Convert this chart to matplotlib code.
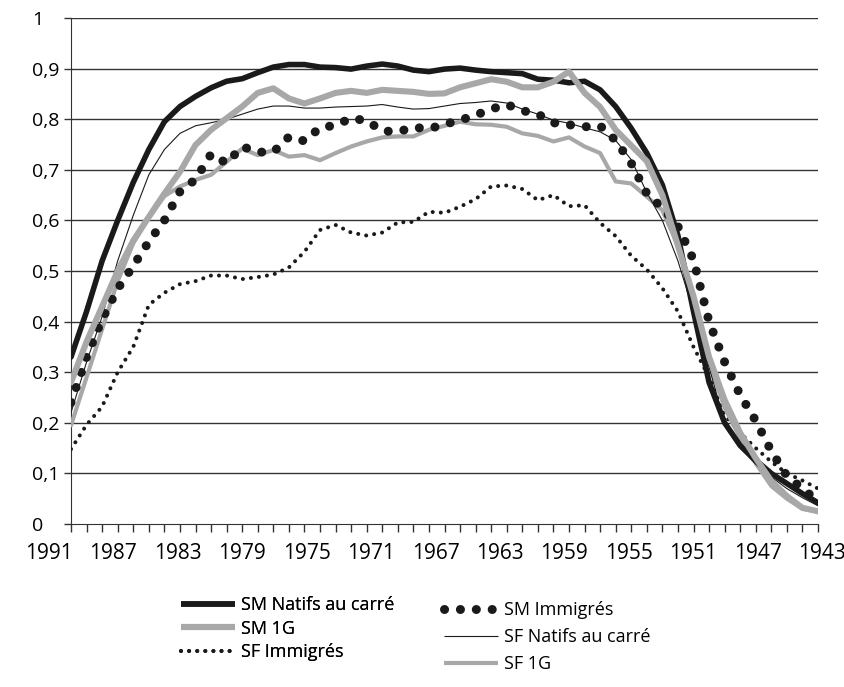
import matplotlib
matplotlib.use("Agg")
import matplotlib.pyplot as plt
import numpy as np
from matplotlib.lines import Line2D
from matplotlib.transforms import ScaledTranslation

plt.rcParams['font.family'] = ['Open Sans', 'DejaVu Sans']

years = np.arange(1991, 1942, -1)  # 1991 ... 1943

sm_natifs = [0.33, 0.42, 0.52, 0.60, 0.675, 0.74, 0.795, 0.825, 0.845, 0.862,
             0.875, 0.88, 0.892, 0.903, 0.908, 0.908, 0.903, 0.902, 0.899, 0.905,
             0.909, 0.905, 0.897, 0.894, 0.899, 0.901, 0.897, 0.894, 0.892, 0.890,
             0.879, 0.877, 0.872, 0.875, 0.858, 0.825, 0.782, 0.733, 0.67, 0.57,
             0.42, 0.28, 0.20, 0.155, 0.126, 0.10, 0.08, 0.06, 0.042]
sm_immig = [0.24, 0.33, 0.405, 0.465, 0.51, 0.558, 0.60, 0.657, 0.681, 0.731,
            0.713, 0.746, 0.735, 0.735, 0.765, 0.757, 0.783, 0.788, 0.802, 0.797,
            0.777, 0.775, 0.784, 0.781, 0.79, 0.798, 0.808, 0.82, 0.829, 0.817,
            0.81, 0.793, 0.789, 0.785, 0.787, 0.758, 0.713, 0.653, 0.625, 0.588,
            0.522, 0.40, 0.32, 0.255, 0.204, 0.144, 0.095, 0.07, 0.045]
sm_1g = [0.28, 0.36, 0.43, 0.50, 0.56, 0.607, 0.653, 0.696, 0.749, 0.779,
         0.802, 0.825, 0.852, 0.861, 0.841, 0.831, 0.841, 0.852, 0.856, 0.852,
         0.858, 0.856, 0.854, 0.85, 0.851, 0.863, 0.871, 0.879, 0.874, 0.863,
         0.863, 0.874, 0.894, 0.852, 0.824, 0.779, 0.748, 0.717, 0.65, 0.55,
         0.45, 0.33, 0.245, 0.18, 0.13, 0.085, 0.055, 0.032, 0.025]
sf_natifs = [0.22, 0.32, 0.41, 0.52, 0.61, 0.69, 0.74, 0.772, 0.787, 0.793,
             0.80, 0.81, 0.82, 0.826, 0.826, 0.822, 0.822, 0.824, 0.825, 0.826,
             0.829, 0.824, 0.82, 0.821, 0.826, 0.831, 0.833, 0.836, 0.832, 0.82,
             0.81, 0.798, 0.792, 0.783, 0.775, 0.758, 0.72, 0.655, 0.60, 0.52,
             0.42, 0.31, 0.20, 0.15, 0.118, 0.093, 0.07, 0.052, 0.036]
sf_immig = [0.148, 0.196, 0.232, 0.30, 0.35, 0.433, 0.457, 0.474, 0.48, 0.491,
            0.491, 0.484, 0.488, 0.493, 0.507, 0.538, 0.581, 0.591, 0.576, 0.57,
            0.576, 0.596, 0.597, 0.617, 0.615, 0.627, 0.642, 0.667, 0.669, 0.662,
            0.64, 0.65, 0.628, 0.63, 0.595, 0.569, 0.53, 0.503, 0.466, 0.42,
            0.35, 0.29, 0.215, 0.18, 0.15, 0.123, 0.10, 0.086, 0.07]
sf_1g = [0.195, 0.29, 0.385, 0.48, 0.555, 0.605, 0.648, 0.667, 0.68, 0.69,
         0.716, 0.742, 0.729, 0.739, 0.726, 0.729, 0.719, 0.733, 0.746, 0.756,
         0.764, 0.766, 0.766, 0.779, 0.787, 0.795, 0.79, 0.789, 0.785, 0.772,
         0.767, 0.756, 0.764, 0.746, 0.733, 0.677, 0.673, 0.647, 0.62, 0.55,
         0.43, 0.32, 0.23, 0.17, 0.12, 0.075, 0.05, 0.03, 0.025]

yticks = [0, 0.1, 0.2, 0.3, 0.4, 0.5, 0.6, 0.7, 0.8, 0.9, 1]
ylabels = ['0', '0,1', '0,2', '0,3', '0,4', '0,5', '0,6', '0,7', '0,8', '0,9', '1']
xlabels = [1991, 1987, 1983, 1979, 1975, 1971, 1967, 1963, 1959, 1955, 1951, 1947, 1943]

BLACK = '#1a1a1a'
GRAY = '#a8a8a8'

# name: (values, colour, linewidth, linestyle, zorder)
series = {
    'SF Immigrés': (sf_immig, BLACK, 2.9, (0, (0.01, 2.0)), 3),
    'SF 1G': (sf_1g, GRAY, 3.0, '-', 3),
    'SM Immigrés': (sm_immig, BLACK, 6.5, (0, (0.01, 1.75)), 4),
    'SF Natifs au carré': (sf_natifs, BLACK, 0.8, '-', 5),
    'SM Natifs au carré': (sm_natifs, BLACK, 4.0, '-', 4),
    'SM 1G': (sm_1g, GRAY, 4.4, '-', 5),
}

fig = plt.figure(figsize=(8.45, 6.87), dpi=100)
ax = fig.add_axes([71/845, 1 - 524/687, (818 - 71)/845, (524 - 18)/687])

for name, (vals, col, lw, ls, z) in series.items():
    ax.plot(years, vals, color=col, lw=lw, linestyle=ls, dash_capstyle='round',
            solid_capstyle='round', solid_joinstyle='round', zorder=z)

ax.set_xlim(1991, 1943)
ax.set_ylim(0, 1)
ax.set_xticks(xlabels)
ax.set_xticklabels([str(v) for v in xlabels])
ax.set_xticks(years, minor=True)
ax.set_yticks(yticks)
ax.set_yticklabels(ylabels, ha='left')
ax.tick_params(axis='x', which='both', length=6, width=1, color='#333333',
               direction='out', labelsize=15, pad=8)
ax.tick_params(axis='y', length=5, width=1, color='#333333', labelsize=14, pad=23)

# year labels in the source are spread a little wider than the ticks
for k, lab in enumerate(ax.get_xticklabels()):
    dx = (-22 + k * 26 / 12) / 100
    lab.set_transform(lab.get_transform() + ScaledTranslation(dx, 0, fig.dpi_scale_trans))

for v in yticks[1:]:
    ax.axhline(v, color='#333333', lw=1.0, zorder=1)
for s in ['top', 'right']:
    ax.spines[s].set_visible(False)
ax.spines['left'].set_color('#333333')
ax.spines['bottom'].set_color('#333333')


def proxy(name):
    vals, col, lw, ls, z = series[name]
    return Line2D([], [], color=col, lw=lw, linestyle=ls, dash_capstyle='round',
                  solid_capstyle='butt')


col1 = ['SM Natifs au carré', 'SM 1G', 'SF Immigrés']
col2 = ['SM Immigrés', 'SF Natifs au carré', 'SF 1G']

leg1 = fig.legend([proxy(n) for n in col1], col1, loc='upper left',
                  bbox_to_anchor=(165/845, 1 - 580/687), frameon=False,
                  fontsize=13, handlelength=3.0, handletextpad=0.3, labelspacing=0.3)
fig.add_artist(leg1)
fig.legend([proxy(n) for n in col2], col2, loc='upper left',
           bbox_to_anchor=(428/845, 1 - 585/687), frameon=False,
           fontsize=13, handlelength=3.0, handletextpad=0.3, labelspacing=0.5)

fig.savefig('out.png', dpi=100)
